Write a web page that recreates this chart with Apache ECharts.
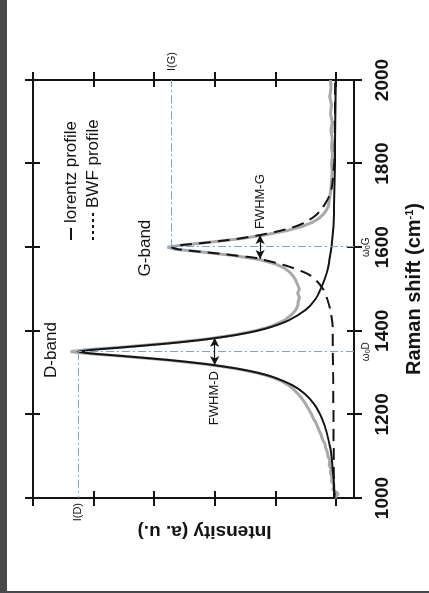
<!DOCTYPE html>
<html>
<head>
<meta charset="utf-8">
<script src="https://cdn.jsdelivr.net/npm/echarts@6/dist/echarts.min.js"></script>
<style>
  html, body { margin: 0; padding: 0; width: 429px; height: 593px; overflow: hidden; background: #fff; position: relative; }
  .edge-left { position: absolute; left: 0; top: 0; width: 7px; height: 593px; background: #474849; }
  .edge-bottom { position: absolute; left: 0; top: 591px; width: 429px; height: 2px; background: #474849; }
  /* the figure is laid out landscape and turned a quarter turn counter-clockwise */
  #chart { position: absolute; left: 0; top: 593px; width: 593px; height: 429px; transform-origin: 0 0; transform: rotate(-90deg); }
</style>
</head>
<body>
<div class="edge-left"></div>
<div class="edge-bottom"></div>
<div id="chart"></div>
<script>
// Axis ticks
const ramanTicks = [1000, 1200, 1400, 1600, 1800, 2000];
const intensityTicks = [0, 1, 2, 3, 4, 5];

// Lorentz fit of the D band
const lorentzShift = [1000, 1050, 1100, 1125, 1150, 1175, 1200, 1225, 1250, 1270, 1290, 1300, 1310, 1320, 1330, 1340, 1345, 1350,
  1355, 1360, 1370, 1380, 1390, 1400, 1410, 1425, 1450, 1475, 1500, 1525, 1550, 1575, 1600, 1650, 1700, 1800, 1900, 2000];
const lorentzIntensity = [0.02, 0.04, 0.07, 0.10, 0.14, 0.19, 0.26, 0.36, 0.52, 0.72, 1.05, 1.30, 1.65, 2.12, 2.75, 3.55, 3.98, 4.26,
  3.98, 3.55, 2.75, 2.12, 1.65, 1.30, 1.05, 0.78, 0.50, 0.34, 0.25, 0.18, 0.13, 0.10, 0.07, 0.04, 0.03, 0.015, 0.01, 0.0];

// BWF fit of the G band
const bwfShift = [1000, 1100, 1200, 1300, 1350, 1400, 1450, 1475, 1500, 1520, 1535, 1550, 1560, 1570, 1575, 1580, 1585, 1590, 1595, 1600,
  1605, 1610, 1615, 1620, 1630, 1640, 1650, 1660, 1675, 1690, 1710, 1730, 1760, 1800, 1850, 2000];
const bwfIntensity = [0.03, 0.035, 0.04, 0.045, 0.05, 0.05, 0.09, 0.14, 0.21, 0.32, 0.45, 0.70, 0.92, 1.20, 1.35, 1.65, 1.95, 2.30, 2.60, 2.71,
  2.55, 2.20, 1.90, 1.62, 1.22, 0.90, 0.66, 0.50, 0.34, 0.24, 0.15, 0.09, 0.05, 0.03, 0.02, 0.01];

// Measured spectrum
const spectrumShift = [1000, 1010, 1020, 1030, 1040, 1050, 1060, 1070, 1080, 1090, 1100, 1110, 1120, 1130, 1140, 1150, 1160, 1170, 1180, 1190,
  1200, 1210, 1220, 1230, 1240, 1250, 1260, 1270, 1280, 1290, 1300, 1310, 1320, 1330, 1340, 1345, 1350, 1355, 1360, 1370, 1380, 1390, 1400,
  1410, 1425, 1440, 1450, 1460, 1470, 1480, 1490, 1500, 1510, 1520, 1530, 1540, 1550, 1560, 1570, 1580, 1590, 1595, 1600, 1605, 1610, 1620,
  1630, 1640, 1650, 1660, 1670, 1680, 1690, 1700, 1720, 1740, 1760, 1780, 1800, 1820, 1840, 1860, 1880, 1900, 1920, 1940, 1960, 1980, 2000];
const spectrumIntensity = [0.02, -0.04, 0.05, 0.03, 0.07, 0.06, 0.09, 0.08, 0.11, 0.10, 0.13, 0.14, 0.17, 0.18, 0.22, 0.24, 0.27, 0.30, 0.33, 0.37,
  0.40, 0.44, 0.48, 0.52, 0.57, 0.63, 0.70, 0.78, 0.90, 1.07, 1.32, 1.66, 2.14, 2.78, 3.58, 4.05, 4.38, 4.10, 3.60, 2.80, 2.15, 1.68, 1.33,
  1.08, 0.85, 0.72, 0.66, 0.63, 0.62, 0.60, 0.63, 0.60, 0.63, 0.66, 0.70, 0.76, 0.85, 1.00, 1.25, 1.68, 2.30, 2.65, 2.78, 2.55, 2.20, 1.60,
  1.15, 0.80, 0.55, 0.38, 0.27, 0.20, 0.15, 0.12, 0.10, 0.08, 0.07, 0.06, 0.07, 0.05, 0.07, 0.06, 0.08, 0.06, 0.09, 0.07, 0.10, 0.08, 0.09];

// Band positions, heights and half-width markers
const bandNames = ['D-band', 'G-band'];
const bandCentre = [1350, 1600];
const bandHeight = [4.26, 2.71];
const bandLabelShift = [1354, 1598];
const bandLabelIntensity = [4.69, 3.14];
const fwhmLow = [1318, 1572];
const fwhmHigh = [1383, 1629];
const fwhmLevel = [2.0, 1.25];

const RAMAN_MIN = 1000, RAMAN_MAX = 2000;
const INT_MIN = -0.3, INT_MAX = 5;

const ink = '#141414';
const guide = '#6fa9cc';
const font = 'Liberation Sans, Arial, sans-serif';

const zip = (xs, ys) => xs.map((x, i) => [x, ys[i]]);

function ramanAxis(position, inside, main) {
  return {
    type: 'value', position: position, min: RAMAN_MIN, max: RAMAN_MAX,
    axisLine: { show: !inside, onZero: false, lineStyle: { color: ink, width: 2 } },
    axisTick: { show: true, inside: inside, length: inside ? 7 : 8, customValues: ramanTicks, lineStyle: { color: ink, width: 2 } },
    axisLabel: main ? { show: true, customValues: ramanTicks, formatter: (v) => String(v), margin: 19, fontSize: 19, fontWeight: 'bold', color: ink, fontFamily: font }
                    : { show: false },
    splitLine: { show: false },
    name: main ? 'Raman shift (cm{sup|-1})' : '',
    nameLocation: 'middle', nameGap: 50,
    nameTextStyle: {
      fontSize: 20, fontWeight: 'bold', color: ink, fontFamily: font,
      rich: { sup: { fontSize: 11, fontWeight: 'bold', fontFamily: font, color: ink, verticalAlign: 'top', padding: [0, 0, 9, 0] } }
    }
  };
}

function intensityAxis(position, inside, main) {
  return {
    type: 'value', position: position, min: INT_MIN, max: INT_MAX,
    axisLine: { show: !inside, onZero: false, lineStyle: { color: ink, width: 2 } },
    axisTick: { show: true, inside: inside, length: inside ? 7 : 8, customValues: intensityTicks, lineStyle: { color: ink, width: 2 } },
    axisLabel: { show: false },
    splitLine: { show: false },
    name: main ? 'Intensity (a. u.)' : '',
    nameLocation: 'middle', nameGap: 24, nameRotate: 90,
    nameTextStyle: { fontSize: 19, fontWeight: 'bold', color: ink, fontFamily: font, padding: [0, 22, 0, 0] }
  };
}

function guideLines(i, peakLabel, heightLabel) {
  const c = bandCentre[i], h = bandHeight[i];
  return [
    [{ coord: [c, INT_MIN], label: { show: true, position: 'start', distance: 7, formatter: peakLabel, fontSize: 10, color: ink, fontFamily: font,
        rich: { s: { fontSize: 7, color: ink, verticalAlign: 'bottom', padding: [4, 0, 0, 0] } } } },
     { coord: [c, h] }],
    [{ coord: [c, h], label: { show: true, position: 'end', distance: i === 0 ? 5 : 9, formatter: heightLabel, fontSize: 11, color: ink, fontFamily: font } },
     { coord: [i === 0 ? RAMAN_MIN : RAMAN_MAX, h] }]
  ];
}

function fwhmArrow(i, text, side) {
  return [
    { coord: [fwhmLow[i], fwhmLevel[i]], label: { show: true, position: side, distance: 6, formatter: text, fontSize: 13, color: ink, fontFamily: font } },
    { coord: [fwhmHigh[i], fwhmLevel[i]] }
  ];
}

const chart = echarts.init(document.getElementById('chart'), null, { renderer: 'canvas' });

chart.setOption({
  animation: false,
  backgroundColor: 'transparent',
  grid: { left: 95, right: 80, top: 33, bottom: 74, containLabel: false },
  xAxis: [
    ramanAxis('bottom', false, true),
    ramanAxis('bottom', true, false),
    ramanAxis('top', false, false),
    ramanAxis('top', true, false)
  ],
  yAxis: [
    intensityAxis('left', false, true),
    intensityAxis('left', true, false),
    intensityAxis('right', false, false),
    intensityAxis('right', true, false)
  ],
  legend: [
    {
      data: ['lorentz profile'], orient: 'vertical', left: 348, top: 57,
      itemWidth: 12, itemHeight: 2, selectedMode: false,
      icon: 'rect', itemStyle: { color: ink },
      textStyle: { fontSize: 17, color: ink, fontFamily: font, lineHeight: 18 }
    },
    {
      data: ['BWF profile'], orient: 'vertical', left: 348, top: 79,
      itemWidth: 27, itemHeight: 2, selectedMode: false,
      icon: 'path://M0,0h3v2h-3z M6,0h3v2h-3z M12,0h3v2h-3z M18,0h3v2h-3z M24,0h3v2h-3z',
      itemStyle: { color: ink },
      textStyle: { fontSize: 17, color: ink, fontFamily: font, lineHeight: 18 }
    }
  ],
  series: [
    {
      name: 'spectrum', type: 'line', xAxisIndex: 0, yAxisIndex: 0,
      data: zip(spectrumShift, spectrumIntensity),
      showSymbol: false, symbol: 'none', smooth: false,
      lineStyle: { color: '#a9a9a9', width: 3 }, z: 1
    },
    {
      name: 'BWF profile', type: 'line', xAxisIndex: 0, yAxisIndex: 0,
      data: zip(bwfShift, bwfIntensity),
      showSymbol: false, symbol: 'none', smooth: 0.25,
      itemStyle: { color: ink },
      lineStyle: { color: ink, width: 2, type: [12, 7] }, z: 3,
      markLine: {
        silent: true, symbol: 'none', animation: false,
        lineStyle: { color: guide, width: 1, type: [8, 3, 2, 3] },
        data: guideLines(1, 'ω{s|0}G', 'I(G)')
      }
    },
    {
      name: 'lorentz profile', type: 'line', xAxisIndex: 0, yAxisIndex: 0,
      data: zip(lorentzShift, lorentzIntensity),
      showSymbol: false, symbol: 'none', smooth: 0.25,
      itemStyle: { color: ink },
      lineStyle: { color: ink, width: 2 }, z: 4,
      markLine: {
        silent: true, symbol: 'none', animation: false,
        lineStyle: { color: guide, width: 1, type: [8, 3, 2, 3] },
        data: guideLines(0, 'ω{s|0}D', 'I(D)')
      },
      markPoint: {
        silent: true, symbol: 'circle', symbolSize: 0, animation: false,
        label: { show: true, position: 'inside', fontSize: 17, color: ink, fontFamily: font },
        data: bandNames.map((n, i) => ({ coord: [bandLabelShift[i], bandLabelIntensity[i]], label: { formatter: n } }))
      }
    },
    {
      name: 'fwhm', type: 'line', xAxisIndex: 0, yAxisIndex: 0, data: [],
      markLine: {
        silent: true, animation: false, symbol: ['arrow', 'arrow'], symbolSize: [7, 9],
        lineStyle: { color: ink, width: 1.2, type: 'solid' },
        data: [fwhmArrow(0, 'FWHM-D', 'start'), fwhmArrow(1, 'FWHM-G', 'end')]
      }
    }
  ]
});
</script>
</body>
</html>
